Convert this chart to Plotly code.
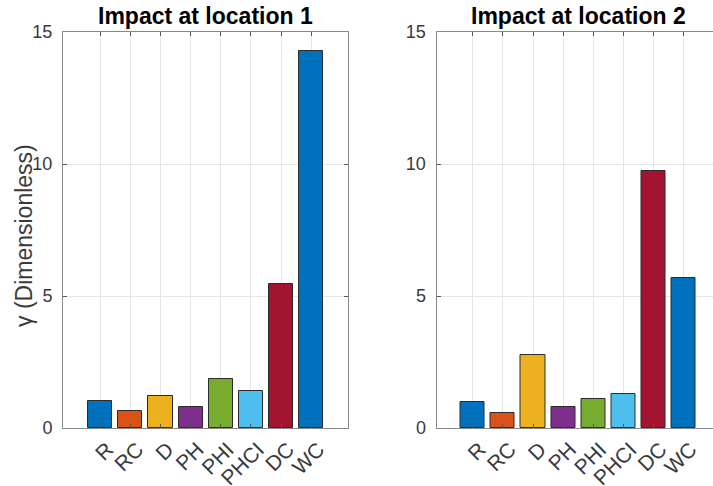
import plotly.graph_objects as go

categories = ["R", "RC", "D", "PH", "PHI", "PHCI", "DC", "WC"]
loc1_values = [1.02, 0.64, 1.22, 0.81, 1.87, 1.41, 5.47, 14.28]
loc2_values = [1.00, 0.58, 2.78, 0.78, 1.11, 1.30, 9.75, 5.67]
bar_colors = ["#0072BD", "#D95319", "#EDB120", "#7E2F8E", "#77AC30", "#4DBEEE", "#A2142F", "#0072BD"]
titles = ["Impact at location 1", "Impact at location 2"]
y_ticks = [0, 5, 10, 15]

W, H = 713, 486
ml, mr, mt, mb = 63, 0, 32, 58
pw = W - ml - mr
ph = H - mt - mb

xpos = list(range(1, len(categories) + 1))

fig = go.Figure()
for i, vals in enumerate([loc1_values, loc2_values]):
    sfx = "" if i == 0 else "2"
    fig.add_trace(go.Bar(
        x=xpos, y=vals, width=0.8,
        marker=dict(color=bar_colors, line=dict(color="#2b2b2b", width=1)),
        xaxis="x" + sfx, yaxis="y" + sfx, showlegend=False,
    ))

font_family = "Liberation Sans, Arial, sans-serif"
axis_color = "#8a8a8a"
ytick_font = dict(family=font_family, size=18, color="#3a3a3a")
xtick_font = dict(family=font_family, size=21, color="#3a3a3a")

common_x = dict(
    tickmode="array", tickvals=xpos, ticktext=categories, tickangle=-45,
    showgrid=True, gridcolor="#e6e6e6", gridwidth=1,
    ticks="inside", ticklen=4, tickcolor="#555555",
    showline=True, linecolor=axis_color, linewidth=1, mirror="ticks",
    tickfont=xtick_font, zeroline=False, automargin=False, ticklabelshift=7,
)
common_y = dict(
    range=[0, 15], tickvals=y_ticks,
    showgrid=True, gridcolor="#e6e6e6", gridwidth=1,
    ticks="inside", ticklen=4, tickcolor="#555555",
    showline=True, linecolor=axis_color, linewidth=1,
    tickfont=ytick_font, zeroline=False, ticklabelstandoff=6, automargin=False,
)

left_end = (347.7 - ml) / pw
right_start = (436.5 - ml) / pw

fig.update_layout(
    width=W, height=H,
    margin=dict(l=ml, r=mr, t=mt, b=mb),
    paper_bgcolor="white", plot_bgcolor="white",
    bargap=0,
    xaxis=dict(domain=[0, left_end], range=[-0.235, 9.21], anchor="y", **common_x),
    yaxis=dict(domain=[0, 1], anchor="x", mirror="ticks", **common_y),
    xaxis2=dict(domain=[right_start, 1], range=[-0.205, 8.975], anchor="y2", **common_x),
    yaxis2=dict(domain=[0, 1], anchor="x2", mirror=False, **common_y),
)

annotations = []
centers = [(0 + left_end) / 2, right_start + (284.4 / pw) / 2]
for c, t in zip(centers, titles):
    annotations.append(dict(
        text="<b>" + t + "</b>", x=c, y=1 + (mt - 16) / ph, xref="paper", yref="paper",
        xanchor="center", yanchor="middle", showarrow=False,
        font=dict(family=font_family, size=23, color="#000000"),
    ))
annotations.append(dict(
    text="γ (Dimensionless)", x=(24 - ml) / pw, y=1 - (236 - mt) / ph, xref="paper", yref="paper",
    xanchor="center", yanchor="middle", textangle=-90, showarrow=False,
    font=dict(family=font_family, size=23, color="#3a3a3a"),
))
fig.update_layout(annotations=annotations)

fig.write_html(
    "out.html",
    config={"displayModeBar": False},
    post_script="document.body.style.margin='0px';document.body.style.overflow='hidden';",
)
